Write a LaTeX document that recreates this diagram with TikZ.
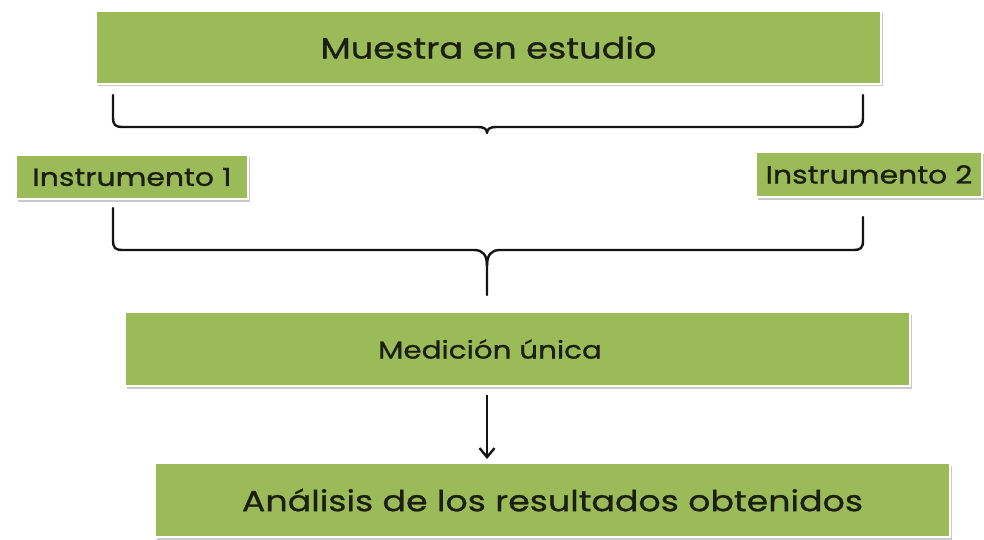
\documentclass[tikz,border=0pt]{standalone}
\usepackage{fontspec}
\setmainfont{Poppins}[FakeStretch=1.2,FakeBold=0.9]
\usetikzlibrary{shadows,arrows.meta}
\definecolor{boxgreen}{HTML}{9BBB59}
\definecolor{txt}{HTML}{1A1F12}
\begin{document}
\begin{tikzpicture}[x=1pt,y=-1pt,
  gbox/.style={fill=boxgreen, draw=white, line width=1.2pt, inner sep=0pt, text=txt,
    drop shadow={shadow xshift=1.5pt, shadow yshift=-2.5pt, opacity=0.35, fill=black!60}},
  lbl/.style={text=txt, inner sep=0pt},
  brace/.style={line width=2.4pt, black!92, line join=round, line cap=round},
  arr/.style={line width=2.6pt, black!92, -{Straight Barb[length=9pt,width=15pt,line width=2.4pt]}}]
\useasboundingbox[fill=white] (0,0) rectangle (984,540);
% boxes
\node[gbox, minimum width=785pt, minimum height=73pt, font=\fontsize{29.3}{34}\selectfont] (m) at (488.5,47.5) {Muestra en estudio};
\node[gbox, minimum width=232pt, minimum height=44pt, font=\fontsize{24.9}{28}\selectfont] (i1) at (132,177) {Instrumento 1};
\node[gbox, minimum width=226pt, minimum height=45pt, font=\fontsize{24.9}{28}\selectfont] (i2) at (869,174.5) {Instrumento 2};
\node[gbox, minimum width=785pt, minimum height=74pt] (u) at (517.5,349) {};
\node[lbl, font=\fontsize{24.5}{28}\selectfont] (ut) at (490,349) {Medición única};
\node[gbox, minimum width=795pt, minimum height=74pt, font=\fontsize{29}{33}\selectfont] (r) at (552.5,500) {Análisis de los resultados obtenidos};
% brace coordinates
\coordinate (b1l) at (113,95);
\coordinate (b1r) at (863,95);
\coordinate (b1c) at (487,133);
\coordinate (b2l) at (113,208);
\coordinate (b2r) at (863,217);
\coordinate (b2c) at (487,295);
\coordinate (a1) at (487,395);
\coordinate (a2) at (487,459);
% brace 1
\draw[brace] (b1l) -- (113,117) .. controls (113,125) and (115,127) .. (123,127) -- (478,127)
  .. controls (484,127) and (487,129) .. (b1c)
  .. controls (487,129) and (490,127) .. (496,127) -- (853,127)
  .. controls (861,127) and (863,125) .. (863,117) -- (b1r);
% brace 2
\draw[brace] (b2l) -- (113,240) .. controls (113,248) and (115,250) .. (123,250) -- (474,250)
  .. controls (483,250) and (487,255) .. (487,266) -- (b2c);
\draw[brace] (487,266) .. controls (487,255) and (491,250) .. (500,250) -- (853,250)
  .. controls (861,250) and (863,248) .. (863,240) -- (b2r);
% arrow
\draw[arr] (a1) -- (a2);
\end{tikzpicture}
\end{document}
